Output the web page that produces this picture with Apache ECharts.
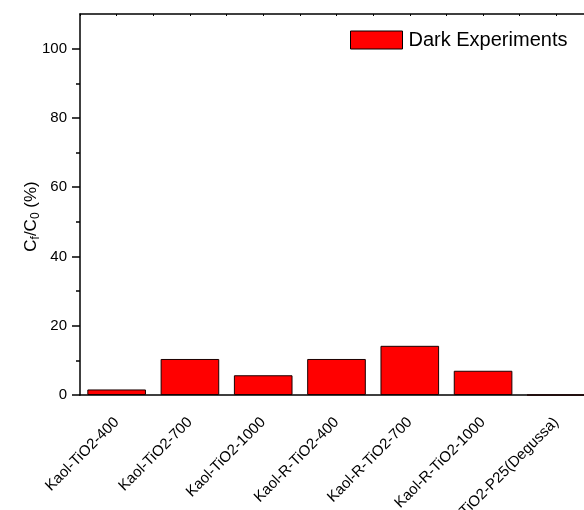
<!DOCTYPE html>
<html>
<head>
<meta charset="utf-8">
<script src="https://cdn.jsdelivr.net/npm/echarts@6/dist/echarts.min.js"></script>
<style>
html, body { margin: 0; padding: 0; background: #fff; }
#ec { width: 584px; height: 510px; }
</style>
</head>
<body>
<div id="ec"></div>
<script>
// samples on the x axis
const samples = [
  "Kaol-TiO2-400",
  "Kaol-TiO2-700",
  "Kaol-TiO2-1000",
  "Kaol-R-TiO2-400",
  "Kaol-R-TiO2-700",
  "Kaol-R-TiO2-1000",
  "TiO2-P25(Degussa)",
];
// Cf/C0 (%) after dark experiments
const darkValues = [1.6, 10.4, 5.7, 10.4, 14.2, 7.0, 0];
const yTicks = [0, 20, 40, 60, 80, 100];
const yMinorTicks = [10, 30, 50, 70, 90];

const font = "Liberation Sans, Arial, sans-serif";
const black = "#000";

const domChart = document.getElementById("ec");
let myChart = echarts.init(domChart);
myChart.setOption({
  animation: false,
  textStyle: { fontFamily: font, color: black },
  // plot runs past the right edge of the picture
  grid: { left: 80, right: -9, top: 14, bottom: 115, containLabel: false, outerBoundsMode: "none" },
  legend: {
    left: 350,
    top: 30,
    padding: 0,
    itemWidth: 52,
    itemHeight: 18,
    itemGap: 6,
    icon: "rect",
    itemStyle: { borderColor: black, borderWidth: 1 },
    textStyle: { fontSize: 20, color: black, fontFamily: font, padding: [0, 0, 0, 1] },
    data: ["Dark Experiments"],
  },
  xAxis: [
    {
      type: "category",
      position: "bottom",
      data: samples,
      axisLine: { lineStyle: { color: black, width: 1.5 } },
      axisTick: { alignWithLabel: true, length: 8, lineStyle: { color: black, width: 1.5 } },
      axisLabel: { rotate: 45, fontSize: 15, color: black, margin: 25, interval: 0, fontFamily: font },
    },
    {
      // short ticks on the category borders
      type: "category",
      position: "bottom",
      data: samples,
      axisLine: { show: false },
      axisTick: { length: 4, lineStyle: { color: black, width: 1.5 } },
      axisLabel: { show: false },
    },
    {
      // top frame
      type: "value",
      position: "top",
      min: 0,
      max: samples.length,
      interval: 0.5,
      axisLine: { show: true, lineStyle: { color: black, width: 1.5 } },
      axisTick: { show: true, inside: true, length: 2, lineStyle: { color: black } },
      axisLabel: { show: false },
      splitLine: { show: false },
    },
  ],
  yAxis: [
    {
      type: "value",
      position: "left",
      min: 0,
      max: 110,
      interval: 10,
      name: "{a|C}{s|f}{a|/C}{s|0}{a| (%)}",
      nameLocation: "middle",
      nameRotate: 90,
      nameGap: 38,
      nameMoveOverlap: false,
      nameTextStyle: {
        padding: [0, 24, 0, 0],
        rich: {
          a: { fontSize: 17, lineHeight: 22, color: black, fontFamily: font },
          s: { fontSize: 12, lineHeight: 12, verticalAlign: "bottom", color: black, fontFamily: font },
        },
      },
      axisLine: { show: true, lineStyle: { color: black, width: 1.5 } },
      axisTick: { customValues: yTicks, length: 8, lineStyle: { color: black, width: 1.5 } },
      axisLabel: { customValues: yTicks, fontSize: 15, color: black, margin: 13, fontFamily: font },
      splitLine: { show: false },
    },
    {
      // minor ticks
      type: "value",
      position: "left",
      min: 0,
      max: 110,
      interval: 10,
      axisLine: { show: false },
      axisTick: { customValues: yMinorTicks, length: 4, lineStyle: { color: black, width: 1.5 } },
      axisLabel: { show: false },
      splitLine: { show: false },
    },
  ],
  series: [
    {
      name: "Dark Experiments",
      type: "bar",
      data: darkValues,
      barCategoryGap: "20%",
      itemStyle: { color: "#ff0000", borderColor: "#1a0000", borderWidth: 1 },
    },
  ],
});
</script>
</body>
</html>
